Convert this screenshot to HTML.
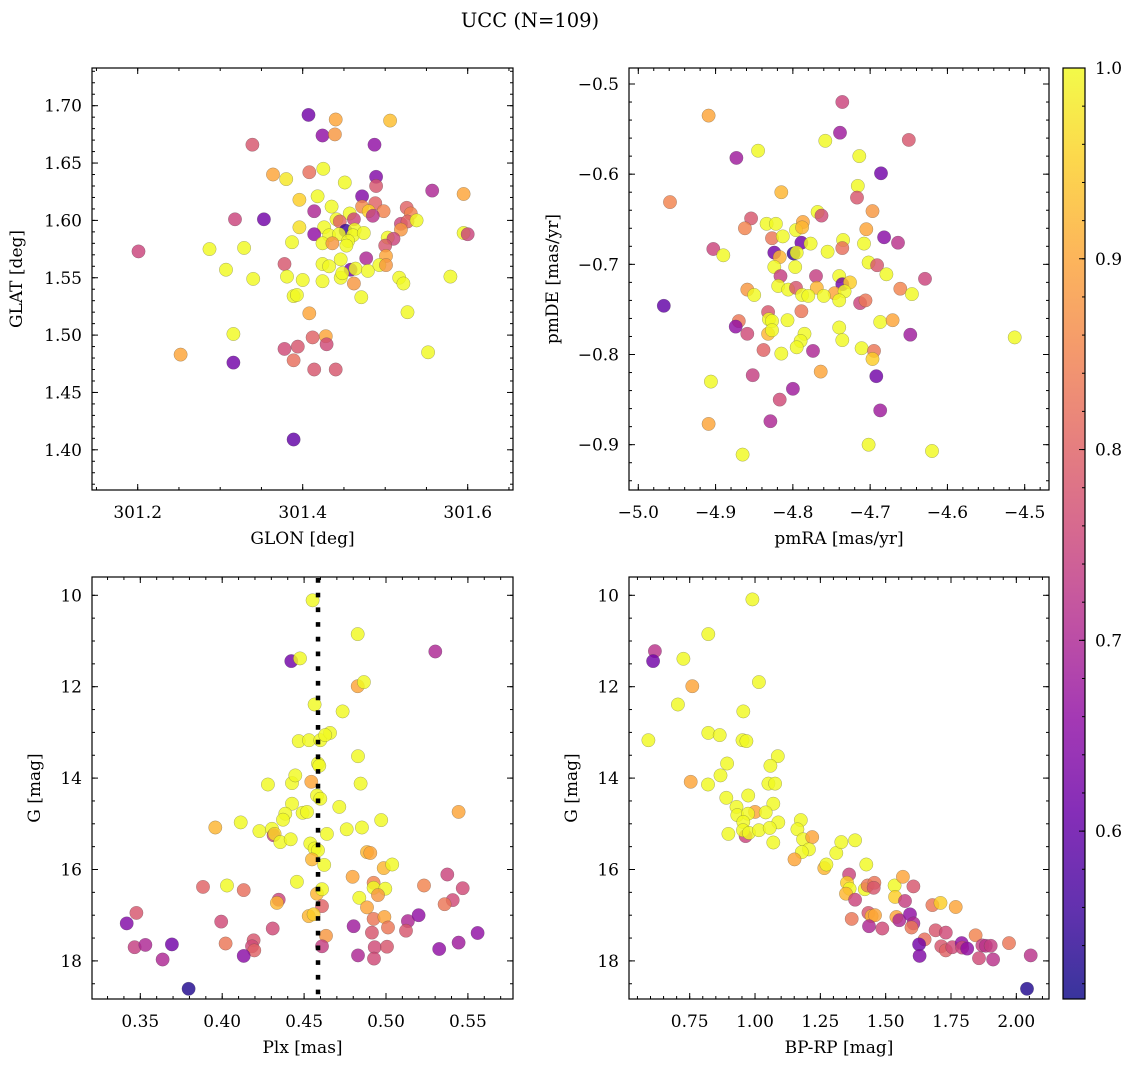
<!DOCTYPE html>
<html><head><meta charset="utf-8">
<style>
html,body{margin:0;padding:0;background:#fff;}
svg text{font-family:"DejaVu Serif","Liberation Serif",serif;fill:#000;}
</style></head>
<body>
<svg id="fig" width="1136" height="1067" viewBox="0 0 1136 1067" xmlns="http://www.w3.org/2000/svg">
<rect width="1136" height="1067" fill="#fff"/>
<text x="530" y="27" font-size="19.5" text-anchor="middle">UCC (N=109)</text>
</svg>
<script>
// ---- Panel 1: GLON vs GLAT ----
const glon1=[301.407,301.440,301.506,301.424,301.439,301.339,301.487,301.364,301.380,301.408,301.425,301.451,301.489,301.489,301.557,301.595,301.396,301.418,301.472,301.435,301.414,301.472,301.488,301.498,301.480,301.485,301.457,301.526,301.531,301.318,301.353,301.441,301.462,301.445,301.519,301.527,301.538,301.396,301.426,301.452,301.463,301.414,301.432,301.444,301.461,301.474,301.519,301.595,301.600,301.503,301.510,301.387,301.424,301.436,301.455,301.453,301.500,301.201,301.287,301.329,301.446,301.477,301.501,301.378,301.424,301.432,301.458,301.464,301.479,301.493,301.501,301.307,301.340,301.381,301.400,301.424,301.446,301.448,301.462,301.517,301.522,301.579,301.389,301.393,301.471,301.408,301.527,301.316,301.428,301.429,301.412,301.378,301.394,301.252,301.316,301.389,301.414,301.440,301.552,301.389];
const glat1=[1.692,1.688,1.687,1.674,1.675,1.666,1.666,1.640,1.636,1.642,1.645,1.633,1.638,1.630,1.626,1.623,1.618,1.621,1.621,1.612,1.608,1.612,1.615,1.608,1.608,1.604,1.606,1.611,1.606,1.601,1.601,1.601,1.601,1.599,1.597,1.599,1.600,1.594,1.594,1.591,1.592,1.588,1.587,1.588,1.587,1.589,1.592,1.589,1.588,1.585,1.584,1.581,1.580,1.580,1.582,1.578,1.578,1.573,1.575,1.576,1.566,1.567,1.569,1.562,1.562,1.560,1.557,1.558,1.556,1.561,1.561,1.557,1.549,1.551,1.548,1.547,1.550,1.554,1.545,1.550,1.545,1.551,1.534,1.535,1.533,1.519,1.520,1.501,1.499,1.492,1.498,1.488,1.490,1.483,1.476,1.478,1.470,1.470,1.485,1.409];
const prob1=[.62,.9,.93,.66,.88,.78,.66,.9,.98,.82,1,1,.64,.78,.7,.9,.95,1,.64,1,.7,.86,.8,.85,.95,.72,1,.8,.85,.75,.62,1,.75,.8,.75,.8,1,.97,1,.55,1,.66,1,1,1,1,.88,1,.75,1,.75,1,1,.88,1,1,.78,.75,1,1,1,.7,.9,.78,1,1,.62,1,1,1,.88,1,1,1,1,1,1,1,.88,1,1,1,1,1,1,.9,1,1,.9,.76,.8,.76,.78,.9,.62,.82,.78,.78,1,.6];
// ---- Panel 2: pmRA vs pmDE ----
const pmra2=[-4.736,-4.909,-4.739,-4.650,-4.758,-4.873,-4.845,-4.714,-4.686,-4.716,-4.717,-4.959,-4.815,-4.697,-4.768,-4.763,-4.854,-4.862,-4.834,-4.822,-4.787,-4.796,-4.788,-4.705,-4.827,-4.813,-4.789,-4.777,-4.735,-4.708,-4.682,-4.664,-4.903,-4.890,-4.824,-4.817,-4.799,-4.795,-4.755,-4.736,-4.702,-4.691,-4.824,-4.797,-4.816,-4.770,-4.740,-4.736,-4.726,-4.679,-4.629,-4.819,-4.806,-4.796,-4.769,-4.746,-4.733,-4.859,-4.850,-4.788,-4.780,-4.760,-4.740,-4.661,-4.646,-4.967,-4.713,-4.706,-4.832,-4.789,-4.870,-4.874,-4.831,-4.827,-4.807,-4.687,-4.671,-4.859,-4.832,-4.827,-4.785,-4.790,-4.795,-4.740,-4.736,-4.648,-4.513,-4.838,-4.815,-4.774,-4.711,-4.695,-4.697,-4.764,-4.692,-4.906,-4.852,-4.800,-4.817,-4.687,-4.829,-4.909,-4.702,-4.620,-4.865];
const pmde2=[-0.520,-0.535,-0.554,-0.562,-0.563,-0.582,-0.574,-0.580,-0.599,-0.613,-0.626,-0.631,-0.620,-0.641,-0.642,-0.646,-0.649,-0.660,-0.655,-0.655,-0.653,-0.662,-0.659,-0.661,-0.671,-0.669,-0.676,-0.677,-0.673,-0.677,-0.670,-0.676,-0.683,-0.690,-0.687,-0.692,-0.688,-0.687,-0.686,-0.682,-0.698,-0.701,-0.703,-0.703,-0.713,-0.713,-0.713,-0.722,-0.720,-0.711,-0.716,-0.724,-0.728,-0.726,-0.726,-0.732,-0.730,-0.728,-0.734,-0.734,-0.735,-0.735,-0.740,-0.727,-0.733,-0.746,-0.743,-0.740,-0.753,-0.752,-0.763,-0.769,-0.761,-0.763,-0.762,-0.764,-0.762,-0.777,-0.777,-0.773,-0.777,-0.785,-0.792,-0.770,-0.784,-0.778,-0.781,-0.795,-0.799,-0.796,-0.793,-0.796,-0.805,-0.819,-0.824,-0.830,-0.823,-0.838,-0.850,-0.862,-0.874,-0.877,-0.900,-0.907,-0.911];
const prob2=[.75,.9,.68,.78,1,.68,1,1,.62,1,.78,.85,.92,.88,1,.76,.78,.85,1,1,.9,1,.92,.9,.83,1,.62,1,1,1,.65,.72,.75,1,.62,.92,.55,1,1,.82,1,.78,1,1,.74,.74,1,.62,.95,1,.75,1,1,.78,.92,.9,1,.88,1,1,1,1,1,.85,1,.6,.75,.83,.78,.83,.83,.66,1,1,1,1,.9,.76,.92,1,1,1,1,1,1,.68,1,.8,1,.7,1,.83,.95,.9,.62,1,.74,.68,.76,.68,.7,.9,1,1,1];
// ---- Panel 3: Plx vs G ----
const plx3=[.4552,.4827,.5301,.4422,.4475,.4827,.4865,.4564,.4735,.4467,.4530,.4599,.4658,.4629,.4829,.4585,.4593,.4279,.4426,.4446,.4544,.4845,.4579,.4599,.4426,.4715,.4385,.4371,.4491,.4518,.5443,.3958,.4113,.4227,.4304,.4314,.4320,.4355,.4418,.4760,.4853,.4971,.4639,.4538,.4564,.4585,.4548,.4623,.4884,.4904,.4986,.5038,.3883,.4029,.4131,.4345,.4334,.4456,.4579,.4609,.4609,.4796,.4924,.4924,.4996,.4951,.4837,.4884,.5232,.5374,.5468,.5407,.5358,.3476,.3417,.3994,.4308,.4528,.4558,.4802,.4924,.4990,.5012,.4914,.5134,.5199,.5122,.5559,.3465,.3531,.3693,.4021,.4192,.4182,.4196,.4634,.4609,.3636,.4131,.4829,.4931,.5006,.4927,.5325,.5443,.3795];
const g3=[10.11,10.85,11.23,11.44,11.38,11.99,11.90,12.39,12.54,13.19,13.17,13.17,13.01,13.06,13.52,13.68,13.73,14.14,14.11,13.94,14.08,14.12,14.38,14.45,14.56,14.63,14.78,14.91,14.76,14.74,14.74,15.08,14.97,15.16,15.11,15.25,15.22,15.40,15.34,15.12,15.08,14.92,15.22,15.43,15.54,15.58,15.78,15.90,15.62,15.64,15.97,15.89,16.38,16.35,16.45,16.66,16.73,16.27,16.53,16.43,16.80,16.16,16.29,16.40,16.42,16.56,16.62,16.83,16.35,16.11,16.41,16.67,16.76,16.95,17.18,17.14,17.29,17.02,16.98,17.24,17.08,17.04,17.27,17.38,17.13,17.00,17.34,17.39,17.70,17.65,17.64,17.62,17.55,17.68,17.77,17.45,17.68,17.97,17.89,17.88,17.70,17.69,17.95,17.74,17.60,18.61];
const prob3=[1,1,.7,.62,1,.9,1,1,1,1,1,1,1,1,1,1,1,1,1,1,.9,1,1,1,1,1,1,1,1,1,.9,.92,1,1,1,.75,.96,1,1,1,1,1,1,1,1,1,.92,1,.92,.9,.92,1,.8,1,.82,.75,.92,1,.92,1,.8,.9,.85,1,1,.88,1,.9,.85,.75,.76,.76,.83,.78,.64,.76,.76,.92,.95,.68,.83,.9,.83,.78,.7,.66,.78,.66,.74,.7,.62,.83,.78,.76,.8,.88,.74,.7,.65,.7,.76,.78,.76,.66,.68,.53];
const plxLine=0.4585;
// ---- Panel 4: BP-RP vs G ----
const bprp4=[.990,.821,.617,.610,.726,.760,1.015,.705,.955,.592,.821,.865,.952,.967,1.087,.893,1.059,.754,.820,.868,1.051,1.077,.890,.974,1.070,.929,1.000,1.041,.932,.973,.955,1.089,.964,.954,.977,.898,1.015,1.056,1.070,1.175,1.162,1.184,1.219,1.206,1.179,1.151,1.265,1.273,1.311,1.330,1.383,1.426,1.360,1.352,1.362,1.348,1.383,1.420,1.431,1.457,1.454,1.534,1.536,1.566,1.606,1.574,1.370,1.434,1.446,1.459,1.436,1.487,1.541,1.552,1.593,1.606,1.599,1.679,1.710,1.768,1.649,1.628,1.630,1.691,1.730,1.713,1.730,1.755,1.791,1.793,1.812,1.844,1.870,1.883,1.902,1.857,1.911,1.972,2.055,2.041];
const g4=[10.09,10.85,11.22,11.44,11.39,11.99,11.90,12.39,12.54,13.17,13.01,13.06,13.17,13.19,13.52,13.68,13.73,14.08,14.14,13.94,14.12,14.12,14.43,14.38,14.56,14.63,14.74,14.75,14.81,14.78,14.96,14.97,15.27,15.14,15.20,15.22,15.14,15.09,15.41,14.92,15.12,15.34,15.29,15.56,15.62,15.78,15.97,15.89,15.64,15.40,15.36,15.89,16.11,16.29,16.42,16.53,16.66,16.43,16.35,16.29,16.40,16.35,16.60,16.16,16.37,16.69,17.08,16.95,17.02,17.00,17.24,17.29,17.04,17.11,16.98,17.18,17.27,16.78,16.73,16.82,17.53,17.64,17.89,17.33,17.38,17.68,17.77,17.70,17.61,17.71,17.73,17.44,17.66,17.67,17.67,17.94,17.97,17.61,17.88,18.61];
const prob4=[1,1,.72,.62,1,.9,1,1,1,1,1,1,1,1,1,1,1,.9,1,1,1,1,1,1,1,1,.9,1,1,1,1,1,.75,1,1,1,1,1,1,1,1,1,.9,1,1,.9,.92,1,1,1,1,1,.75,.95,1,.92,.75,1,.83,.83,.78,1,.95,.9,.78,.74,.83,.78,.92,.9,.7,.76,.9,.7,.66,.7,.83,.83,.95,.9,.82,.62,.64,.78,.76,.78,.8,.76,.66,.75,.66,.85,.74,.72,.74,.76,.72,.83,.72,.53];
// ---- colorbar ----
const cbTicks=[0.6,0.7,0.8,0.9,1.0];
const vmin=0.512, vmax=1.0;

const NS='http://www.w3.org/2000/svg';
const svg=document.getElementById('fig');
function el(tag,attrs,parent){const e=document.createElementNS(NS,tag);for(const k in attrs)e.setAttribute(k,attrs[k]);(parent||svg).appendChild(e);return e;}
const plasma=[[13,8,135],[65,4,157],[106,0,168],[143,13,164],[177,42,144],[204,71,120],[225,100,98],[242,132,75],[252,166,54],[252,206,37],[240,249,33]];
function cmap(v){let t=(v-vmin)/(vmax-vmin);t=Math.max(0,Math.min(1,t));const f=t*10,i=Math.min(9,Math.floor(f)),r=f-i;const a=plasma[i],b=plasma[i+1];return 'rgb('+a.map((c,k)=>Math.round(c+(b[k]-c)*r)).join(',')+')';}

const TICKFS=17, LABFS=17;
function panel(cfg){
  const g=el('g',{});
  
  
  const {x0,x1,y0,y1}=cfg.box;
  const X=cfg.sx, Y=cfg.sy;
  const inv=(f,p,a,b)=>a+(p-f(a))/(f(b)-f(a))*(b-a);
  const xa=inv(X,x0,0,1), xb=inv(X,x1,0,1), ya=inv(Y,y1,0,1), yb=inv(Y,y0,0,1);
  const pts=el('g',{},g);
  
  
  for(let i=0;i<cfg.xs.length;i++){
    const c=el('circle',{cx:X(cfg.xs[i]).toFixed(1),cy:Y(cfg.ys[i]).toFixed(1),r:6.7,fill:cmap(cfg.ps[i]),'fill-opacity':0.82,stroke:'#444','stroke-width':0.5,'stroke-opacity':0.45},pts);
    
    
  }
  if(cfg.extra)cfg.extra(g);
  function ticks(a,b,step){const out=[];const s=Math.ceil(a/step-1e-6);for(let k=s;k*step<=b+1e-9;k++)out.push(+(k*step).toFixed(6));return out;}
  const tk=el('g',{stroke:'#000','stroke-width':1},g);
  
  
  ticks(xa,xb,cfg.xMinor).forEach(v=>{const px=X(v);el('line',{x1:px,x2:px,y1:y1,y2:y1-3},tk);el('line',{x1:px,x2:px,y1:y0,y2:y0+3},tk);});
  ticks(Math.min(ya,yb),Math.max(ya,yb),cfg.yMinor).forEach(v=>{const py=Y(v);el('line',{x1:x0,x2:x0+3,y1:py,y2:py},tk);el('line',{x1:x1,x2:x1-3,y1:py,y2:py},tk);});
  cfg.xMajor.forEach(v=>{const px=X(v);el('line',{x1:px,x2:px,y1:y1,y2:y1-6},tk);el('line',{x1:px,x2:px,y1:y0,y2:y0+6},tk);
    const t=el('text',{x:px,y:y1+28,'font-size':TICKFS,'text-anchor':'middle'},g);t.textContent=cfg.xfmt(v);
    
    });
  cfg.yMajor.forEach(v=>{const py=Y(v);el('line',{x1:x0,x2:x0+6,y1:py,y2:py},tk);el('line',{x1:x1,x2:x1-6,y1:py,y2:py},tk);
    const t=el('text',{x:x0-10,y:py+6,'font-size':TICKFS,'text-anchor':'end'},g);t.textContent=cfg.yfmt(v);
    
    });
  const fr=el('rect',{x:x0,y:y0,width:x1-x0,height:y1-y0,fill:'none',stroke:'#000','stroke-width':1.2},g);
  
  
  const xl=el('text',{x:(x0+x1)/2,y:y1+54,'font-size':LABFS,'text-anchor':'middle'},g);xl.textContent=cfg.xlabel;
  
  
  const yx=cfg.ylx, yc=(y0+y1)/2;
  const yl=el('text',{x:yx,y:yc,'font-size':LABFS,'text-anchor':'middle',transform:'rotate(-90 '+yx+' '+yc+')'},g);yl.textContent=cfg.ylabel;
  
  
}
const mfmt=(d)=>v=>v.toFixed(d).replace('-','\u2212');
panel({name:'glon-glat-panel',box:{x0:92,x1:513,y0:68,y1:490},sx:v=>137.7+(v-301.2)*825,sy:v=>105.7-(v-1.70)*1147,
  xs:glon1,ys:glat1,ps:prob1,xMajor:[301.2,301.4,301.6],xMinor:0.05,yMajor:[1.40,1.45,1.50,1.55,1.60,1.65,1.70],yMinor:0.01,
  xfmt:mfmt(1),yfmt:mfmt(2),xlabel:'GLON [deg]',ylabel:'GLAT [deg]',ylx:22});
panel({name:'pm-panel',box:{x0:629,x1:1049,y0:68,y1:490},sx:v=>638.3+(v+5.0)*772.8,sy:v=>84-(v+0.5)*901.7,
  xs:pmra2,ys:pmde2,ps:prob2,xMajor:[-5.0,-4.9,-4.8,-4.7,-4.6,-4.5],xMinor:0.02,yMajor:[-0.9,-0.8,-0.7,-0.6,-0.5],yMinor:0.02,
  xfmt:mfmt(1),yfmt:mfmt(1),xlabel:'pmRA [mas/yr]',ylabel:'pmDE [mas/yr]',ylx:558});
panel({name:'plx-g-panel',box:{x0:92,x1:513,y0:577,y1:999},sx:v=>140.3+(v-0.35)*1638,sy:v=>595.3+(v-10)*45.7,
  xs:plx3,ys:g3,ps:prob3,xMajor:[0.35,0.40,0.45,0.50,0.55],xMinor:0.01,yMajor:[10,12,14,16,18],yMinor:0.5,
  xfmt:mfmt(2),yfmt:v=>String(v),xlabel:'Plx [mas]',ylabel:'G [mag]',ylx:40,
  extra:g=>{const px=140.3+(plxLine-0.35)*1638;const l=el('line',{x1:px,x2:px,y1:578,y2:999,stroke:'#000','stroke-width':4.5,'stroke-dasharray':'4.7 10'},g);
    
    }});
panel({name:'cmd-panel',box:{x0:629,x1:1049,y0:577,y1:999},sx:v=>689.7+(v-0.75)*261.3,sy:v=>595.3+(v-10)*45.7,
  xs:bprp4,ys:g4,ps:prob4,xMajor:[0.75,1.00,1.25,1.50,1.75,2.00],xMinor:0.05,yMajor:[10,12,14,16,18],yMinor:0.5,
  xfmt:mfmt(2),yfmt:v=>String(v),xlabel:'BP-RP [mag]',ylabel:'G [mag]',ylx:577});

(function(){
  const cb=el('g',{});
  
  
  const top=68,bot=999,x0=1063,x1=1085;
  const CY=v=>top+(vmax-v)/(vmax-vmin)*(bot-top);
  const defs=el('defs',{},cb);
  const lg=el('linearGradient',{id:'cbg',x1:0,y1:1,x2:0,y2:0},defs);
  for(let i=0;i<=20;i++){const v=vmin+(vmax-vmin)*i/20;el('stop',{offset:(i/20),'stop-color':cmap(v)},lg);}
  el('rect',{x:x0,y:top,width:x1-x0,height:bot-top,fill:'url(#cbg)','fill-opacity':0.82},cb);
  el('rect',{x:x0,y:top,width:x1-x0,height:bot-top,fill:'none',stroke:'#000','stroke-width':1.2},cb);
  for(let k=26;k<=50;k++){const v=k*0.02;if(v<vmin)continue;const y=CY(v);el('line',{x1:x1,x2:x1-3,y1:y,y2:y,stroke:'#000','stroke-width':1},cb);}
  cbTicks.forEach(v=>{const y=CY(v);el('line',{x1:x1,x2:x1-6,y1:y,y2:y,stroke:'#000','stroke-width':1},cb);
    const t=el('text',{x:x1+10,y:y+6,'font-size':TICKFS},cb);t.textContent=v.toFixed(1);
    
    });
})();
</script>
</body></html>
